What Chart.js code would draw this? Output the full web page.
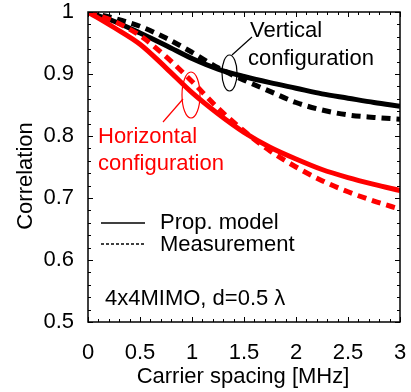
<!DOCTYPE html>
<html>
<head>
<meta charset="utf-8">
<script src="https://cdn.jsdelivr.net/npm/chart.js@4.4.1/dist/chart.umd.min.js"></script>
<style>
  body { margin: 0; background: #fff; }
  #wrap { width: 411px; height: 392px; }
</style>
</head>
<body>
<div id="wrap"><canvas id="chart1" width="411" height="392"></canvas></div>
<script>
// carrier spacing [MHz]
const spacing = [0, 0.25, 0.5, 0.75, 1, 1.25, 1.5, 1.75, 2, 2.25, 2.5, 2.75, 3];
// vertical configuration
const vertModel = [1, 0.985, 0.966, 0.946, 0.925, 0.908, 0.896, 0.886, 0.877, 0.868, 0.861, 0.854, 0.848];
const vertMeas = [1, 0.99, 0.977, 0.958, 0.935, 0.91, 0.89, 0.872, 0.854, 0.842, 0.834, 0.83, 0.827];
// horizontal configuration
const horzModel = [1, 0.975, 0.948, 0.91, 0.87, 0.836, 0.806, 0.782, 0.763, 0.746, 0.733, 0.722, 0.712];
const horzMeas = [1, 0.985, 0.962, 0.928, 0.888, 0.845, 0.808, 0.776, 0.75, 0.728, 0.71, 0.695, 0.682];

const FONT = "'Liberation Sans', Arial, Helvetica, sans-serif";

function pts(arr) {
  return spacing.map((x, i) => ({ x: x, y: arr[i] }));
}

function line(label, arr, color, dashed) {
  return {
    label: label,
    data: pts(arr),
    borderColor: color,
    backgroundColor: color,
    borderWidth: 5,
    borderDash: dashed ? [9, 6] : [],
    borderCapStyle: "butt",
    pointRadius: 0,
    cubicInterpolationMode: "monotone",
    fill: false,
  };
}

function fmt(v) {
  return String(Number(v.toFixed(2)));
}

// don't let label overflow push the plot box around
function noOverflow(s) {
  s.paddingLeft = 0;
  s.paddingRight = 0;
  s.paddingTop = 0;
  s.paddingBottom = 0;
}

// ticks, box, legend and labels drawn on top
const decor = {
  id: "decor",
  afterDraw(chart) {
    const ctx = chart.ctx;
    const xs = chart.scales.x;
    const ys = chart.scales.y;
    const a = chart.chartArea;
    ctx.save();

    // box
    ctx.strokeStyle = "#000";
    ctx.lineWidth = 1.5;
    ctx.strokeRect(a.left, a.top, a.right - a.left, a.bottom - a.top);

    // inward ticks on all four sides
    ctx.lineWidth = 1;
    ctx.beginPath();
    for (let i = 0; i <= 30; i++) {
      const v = i / 10;
      const px = Math.round(xs.getPixelForValue(v)) + 0.5;
      const len = i % 5 === 0 ? 5 : 3;
      ctx.moveTo(px, a.bottom);
      ctx.lineTo(px, a.bottom - len);
      ctx.moveTo(px, a.top);
      ctx.lineTo(px, a.top + len);
    }
    for (let i = 0; i <= 25; i++) {
      const v = 0.5 + i * 0.02;
      const py = Math.round(ys.getPixelForValue(v)) + 0.5;
      const len = i % 5 === 0 ? 5 : 3;
      ctx.moveTo(a.left, py);
      ctx.lineTo(a.left + len, py);
      ctx.moveTo(a.right, py);
      ctx.lineTo(a.right - len, py);
    }
    ctx.stroke();

    // axis titles
    ctx.fillStyle = "#000";
    ctx.font = "22px " + FONT;
    ctx.textAlign = "center";
    ctx.textBaseline = "middle";
    ctx.fillText("Carrier spacing [MHz]", 243, 377);
    ctx.save();
    ctx.translate(26, 176);
    ctx.rotate(-Math.PI / 2);
    ctx.fillText("Correlation", 0, 0);
    ctx.restore();

    // annotations
    ctx.textAlign = "left";
    ctx.fillText("Vertical", 250, 31);
    ctx.fillText("configuration", 248, 59);
    ctx.fillStyle = "#ff0000";
    ctx.fillText("Horizontal", 98, 137);
    ctx.fillText("configuration", 98, 164);

    // ellipses + pointers
    ctx.lineWidth = 1.2;
    ctx.strokeStyle = "#000";
    ctx.beginPath();
    ctx.ellipse(229.5, 73, 7.5, 18, 0, 0, Math.PI * 2);
    ctx.stroke();
    ctx.beginPath();
    ctx.moveTo(232, 55);
    ctx.lineTo(252, 37);
    ctx.stroke();

    ctx.strokeStyle = "#ff0000";
    ctx.beginPath();
    ctx.ellipse(191, 95, 9, 23, 0, 0, Math.PI * 2);
    ctx.stroke();
    ctx.beginPath();
    ctx.moveTo(163, 122);
    ctx.lineTo(183, 99);
    ctx.stroke();

    // legend
    ctx.strokeStyle = "#000";
    ctx.lineWidth = 1.5;
    ctx.beginPath();
    ctx.moveTo(101, 223);
    ctx.lineTo(145, 223);
    ctx.stroke();
    ctx.setLineDash([3, 2]);
    ctx.beginPath();
    ctx.moveTo(101, 244);
    ctx.lineTo(145, 244);
    ctx.stroke();
    ctx.setLineDash([]);
    ctx.fillStyle = "#000";
    ctx.fillText("Prop. model", 160, 223);
    ctx.fillText("Measurement", 160, 245);
    ctx.fillText("4x4MIMO, d=0.5 \u03bb", 105, 299);

    ctx.restore();
  },
};

const canvas1 = document.getElementById("chart1");
const chart1 = new Chart(canvas1, {
  type: "line",
  data: {
    datasets: [
      line("Horizontal model", horzModel, "#ff0000", false),
      line("Horizontal measurement", horzMeas, "#ff0000", true),
      line("Vertical model", vertModel, "#000000", false),
      line("Vertical measurement", vertMeas, "#000000", true),
    ],
  },
  options: {
    responsive: false,
    animation: false,
    layout: { padding: { left: 0, right: 11, top: 12, bottom: 0 } },
    plugins: { legend: { display: false }, tooltip: { enabled: false } },
    scales: {
      x: {
        type: "linear",
        min: 0,
        max: 3,
        ticks: { stepSize: 0.5, color: "#000", font: { size: 22, family: FONT, lineHeight: 1 }, padding: 12, maxRotation: 0, callback: fmt },
        grid: { display: false },
        border: { display: false },
        afterFit: (s) => { s.height = 70; noOverflow(s); },
      },
      y: {
        min: 0.5,
        max: 1,
        ticks: { stepSize: 0.1, color: "#000", font: { size: 22, family: FONT, lineHeight: 1 }, padding: 6, callback: fmt },
        grid: { display: false },
        border: { display: false },
        afterFit: (s) => { s.width = 88; noOverflow(s); },
      },
    },
  },
  plugins: [decor],
});
</script>
</body>
</html>
